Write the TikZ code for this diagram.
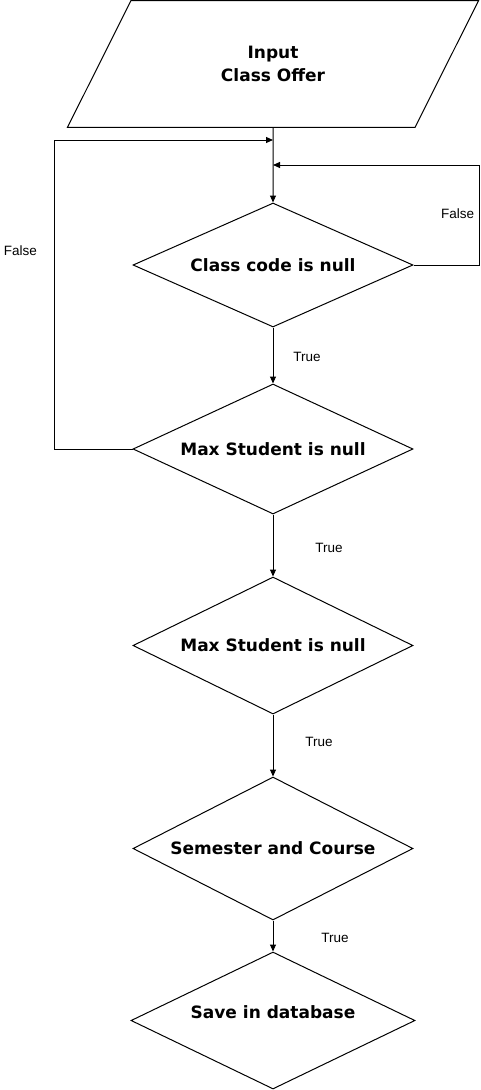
\documentclass[tikz,border=0pt]{standalone}
\usepackage{fontspec}
\setmainfont{Liberation Sans}
\newfontfamily\boxfont{DejaVu Sans}
\usetikzlibrary{arrows.meta, positioning, shapes.geometric}
\tikzset{
  every picture/.style={line width=1pt},
  io/.style={draw, trapezium, trapezium left angle=63.4, trapezium right angle=116.6, trapezium stretches body, minimum width=411pt, inner xsep=0pt, inner ysep=45.5pt, align=center, font=\boxfont\bfseries\fontsize{17}{23}\selectfont},
  decision/.style={draw, diamond, aspect=2.2, inner sep=0pt, minimum width=280pt, minimum height=#1, font=\boxfont\bfseries\fontsize{17}{20}\selectfont},
  decision/.default=130pt,
  arrow/.style={-{Triangle[length=7pt, width=6pt]}},
  note/.style={font=\fontsize{13.5}{15}\selectfont},
}

\begin{document}
\begin{tikzpicture}[x=1pt, y=-1pt]
  \useasboundingbox (0,0) rectangle (480,1090);
  % boxes, top to bottom
  \node[io] (input) at (273,64) {Input\\Class Offer};
  \node[decision=124pt] (code) at (273,265) {Class code is null};
  \node[decision=130pt] (maxa) at (273,449) {Max Student is null};
  \node[decision=137pt] (maxb) at (273,645.5) {Max Student is null};
  \node[decision=143pt] (course) at (273,848.5) {Semester and Course};
  \node[decision=137pt, minimum width=284pt] (save) at (273,1020.5) {\raisebox{2pt}[0pt][0pt]{Save in database}};
  % joints on the main line
  \coordinate (jl) at (273,140);
  \coordinate (jr) at (273,165);
  \coordinate (ll) at (54,140);
  \coordinate (rr) at (479,165);
  % main flow
  \draw[arrow] (input.south) -- (code.north);
  \draw[arrow] (code.south) -- (maxa.north);
  \draw[arrow] (maxa.south) -- (maxb.north);
  \draw[arrow] (maxb.south) -- (course.north);
  \draw[arrow] (course.south) -- (save.north);
  % loops back
  \draw[arrow] (code.east) -| (rr) -- (jr);
  \draw[arrow] (maxa.west) -| (ll) -- (jl);
  % labels
  \node[note, anchor=east] (fr) at (478,214) {False};
  \node[note, anchor=west] (fl) at (0,251) {False};
  \node[note] (ta) at (307,357) {True};
  \node[note] (tb) at (329,548) {True};
  \node[note] (tc) at (319,742) {True};
  \node[note] (td) at (335,938) {True};
\end{tikzpicture}
\end{document}
